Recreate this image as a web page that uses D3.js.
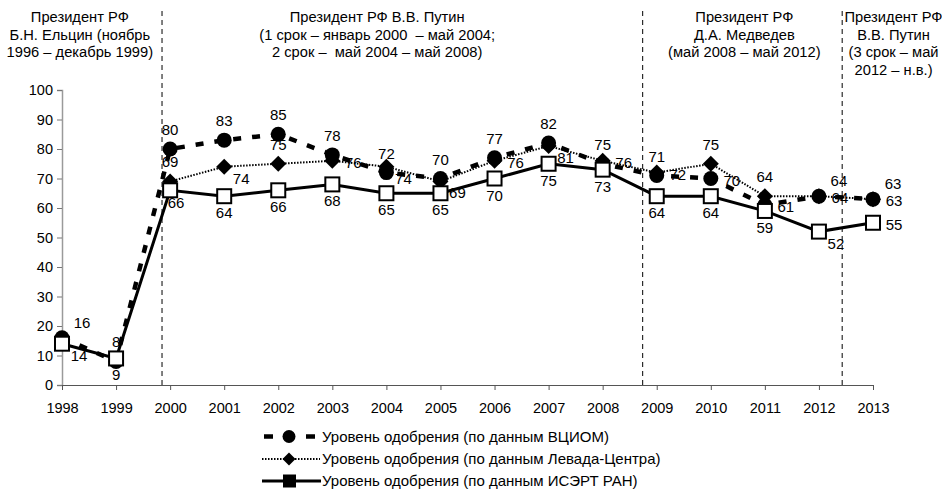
<!DOCTYPE html>
<html><head><meta charset="utf-8">
<script src="https://cdn.jsdelivr.net/npm/d3@7"></script>
<style>body{margin:0;background:#fff}svg text{font-family:"Liberation Sans",Arial,sans-serif;fill:#000;white-space:pre}</style>
</head><body><svg id="c" width="942" height="489"></svg>
<script>
const years = [1998,1999,2000,2001,2002,2003,2004,2005,2006,2007,2008,2009,2010,2011,2012,2013];
const vciom = [16,8,80,83,85,78,72,70,77,82,75,71,70,61,64,63];
const levada = [null,null,69,74,75,76,74,69,76,81,76,72,75,64,64,63];
const isert = [14,9,66,64,66,68,65,65,70,75,73,64,64,59,52,55];
// label placement: a=above, b=below, r=right, ar=above-right, br=below-right, bs=below, slightly right
const vciomLab = ["ar","a","a","a","a","a","a","a","a","a","a","a","r","r","ar","ar"];
const levadaLab = [null,null,"a","br","a","r","br","br","r","br","r","r","a","a","r","r"];
const isertLab = ["br","b","bs","b","b","b","b","b","b","b","b","b","b","b","br","r"];
const yTicks = [0,10,20,30,40,50,60,70,80,90,100];
const separators = [1999.85, 2008.74, 2012.43];
const periods = [
  {x:1998.33, lines:["Президент РФ","Б.Н. Ельцин (ноябрь","1996 – декабрь 1999)"]},
  {x:2003.83, lines:["Президент РФ В.В. Путин","(1 срок – январь 2000  – май 2004;","2 срок –  май 2004 – май 2008)"]},
  {x:2010.62, lines:["Президент РФ","Д.А. Медведев","(май 2008 – май 2012)"]},
  {x:2013.38, lines:["Президент РФ","В.В. Путин","(3 срок – май","2012 – н.в.)"]}
];
const legendNames = ["Уровень одобрения (по данным ВЦИОМ)","Уровень одобрения (по данным Левада-Центра)","Уровень одобрения (по данным ИСЭРТ РАН)"];

const svg = d3.select("#c");
const x = d3.scaleLinear().domain([1998,2013]).range([62,873]);
const y = d3.scaleLinear().domain([0,100]).range([385,90]);

// y axis
const ya = svg.append("g").attr("transform","translate(62,0)")
  .call(d3.axisLeft(y).tickValues(yTicks).tickSize(5).tickPadding(4));
ya.select(".domain").attr("stroke","#9a9a9a").attr("stroke-width",1.5);
ya.selectAll(".tick line").attr("stroke","#777");
ya.selectAll("text").style("font-size","14.5px");
// x axis
const xa = svg.append("g").attr("transform","translate(0,385)")
  .call(d3.axisBottom(x).tickValues(years).tickFormat(d3.format("d")).tickSize(5).tickSizeOuter(0).tickPadding(13));
xa.select(".domain").attr("stroke","#555");
xa.selectAll(".tick line").attr("stroke","#555");
xa.selectAll("text").style("font-size","14.5px");

// separators
svg.selectAll(".sep").data(separators).enter().append("line")
  .attr("x1",d=>x(d)).attr("x2",d=>x(d)).attr("y1",11).attr("y2",385)
  .attr("stroke","#000").attr("stroke-width",1).attr("stroke-dasharray","5,4");

// period annotations
periods.forEach(p=>{
  const t = svg.append("text").attr("text-anchor","middle").style("font-size","14.7px");
  p.lines.forEach((l,i)=>t.append("tspan").attr("x",x(p.x)).attr("y",22+i*17.5).text(l));
});

const idx = d3.range(years.length);
const line = arr => d3.line().defined(i=>arr[i]!=null).x(i=>x(years[i])).y(i=>y(arr[i]));

// ISERT
svg.append("path").attr("d",line(isert)(idx)).attr("fill","none").attr("stroke","#000").attr("stroke-width",3);
// Levada
svg.append("path").attr("d",line(levada)(idx)).attr("fill","none").attr("stroke","#000").attr("stroke-width",2).attr("stroke-dasharray","1.5,1.5");
// VCIOM
svg.append("path").attr("d",line(vciom)(idx)).attr("fill","none").attr("stroke","#000").attr("stroke-width",4.5).attr("stroke-dasharray","8,11");

const dIdx = arr => idx.filter(i=>arr[i]!=null);
svg.selectAll(".dia").data(dIdx(levada)).enter().append("path")
  .attr("d","M0,-8L8,0L0,8L-8,0Z").attr("transform",i=>`translate(${x(years[i])},${y(levada[i])})`).attr("fill","#000");
svg.selectAll(".cir").data(dIdx(vciom)).enter().append("circle")
  .attr("cx",i=>x(years[i])).attr("cy",i=>y(vciom[i])).attr("r",7.5).attr("fill","#000");
svg.selectAll(".sq").data(dIdx(isert)).enter().append("rect")
  .attr("x",i=>x(years[i])-7).attr("y",i=>y(isert[i])-7).attr("width",14).attr("height",14)
  .attr("fill","#fff").attr("stroke","#000").attr("stroke-width",2);

// labels
const off = {a:[0,-14],b:[0,22],bs:[6,18],r:[21,7],ar:[20,-10],br:[17,17]};
function labels(arr,pos){
  svg.append("g").selectAll("text").data(dIdx(arr)).enter().append("text")
    .attr("x",i=>x(years[i])+off[pos[i]][0]).attr("y",i=>y(arr[i])+off[pos[i]][1])
    .attr("text-anchor","middle").style("font-size","15px").text(i=>arr[i]);
}
labels(vciom,vciomLab); labels(levada,levadaLab); labels(isert,isertLab);

// legend
const lg = svg.append("g");
const ly = [436.5,459,481];
lg.append("line").attr("x1",264).attr("x2",320).attr("y1",ly[0]).attr("y2",ly[0]).attr("stroke","#000").attr("stroke-width",4.5).attr("stroke-dasharray","9,33,9");
lg.append("circle").attr("cx",289).attr("cy",ly[0]).attr("r",6.5).attr("fill","#000");
lg.append("line").attr("x1",262).attr("x2",320).attr("y1",ly[1]).attr("y2",ly[1]).attr("stroke","#000").attr("stroke-width",2).attr("stroke-dasharray","1.5,1.5");
lg.append("path").attr("d","M0,-6.5L6.5,0L0,6.5L-6.5,0Z").attr("transform",`translate(289,${ly[1]})`).attr("fill","#000");
lg.append("line").attr("x1",262).attr("x2",321).attr("y1",ly[2]).attr("y2",ly[2]).attr("stroke","#000").attr("stroke-width",3);
lg.append("rect").attr("x",283).attr("y",ly[2]-6.5).attr("width",13).attr("height",13).attr("fill","#000");
lg.selectAll("text").data(legendNames).enter().append("text").attr("x",322).attr("y",(d,i)=>ly[i]+5)
  .style("font-size","15px").text(d=>d);
</script></body></html>
